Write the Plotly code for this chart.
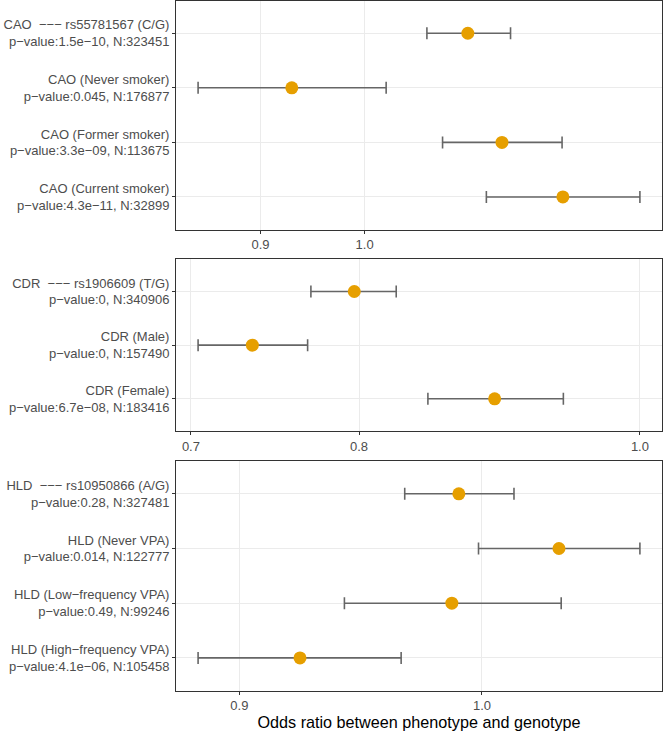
import numpy as np
import plotly.graph_objects as go

# panel 1 - CAO by smoking status
cao_labels = [
    "CAO\u00a0 −−− rs55781567 (C/G)<br>p−value:1.5e−10, N:323451",
    "CAO (Never smoker)<br>p−value:0.045, N:176877",
    "CAO (Former smoker)<br>p−value:3.3e−09, N:113675",
    "CAO (Current smoker)<br>p−value:4.3e−11, N:32899",
]
cao_or = [1.110, 0.929, 1.149, 1.222]
cao_lo = [1.065, 0.845, 1.082, 1.131]
cao_hi = [1.159, 1.022, 1.221, 1.321]
cao_ticks = [0.9, 1.0]

# panel 2 - CDR by sex
cdr_labels = [
    "CDR\u00a0 −−− rs1906609 (T/G)<br>p−value:0, N:340906",
    "CDR (Male)<br>p−value:0, N:157490",
    "CDR (Female)<br>p−value:6.7e−08, N:183416",
]
cdr_or = [0.797, 0.735, 0.891]
cdr_lo = [0.770, 0.704, 0.845]
cdr_hi = [0.824, 0.768, 0.941]
cdr_ticks = [0.7, 0.8, 1.0]

# panel 3 - HLD by VPA frequency
hld_labels = [
    "HLD\u00a0 −−− rs10950866 (A/G)<br>p−value:0.28, N:327481",
    "HLD (Never VPA)<br>p−value:0.014, N:122777",
    "HLD (Low−frequency VPA)<br>p−value:0.49, N:99246",
    "HLD (High−frequency VPA)<br>p−value:4.1e−06, N:105458",
]
hld_or = [0.990, 1.034, 0.987, 0.924]
hld_lo = [0.967, 0.9985, 0.942, 0.884]
hld_hi = [1.014, 1.071, 1.035, 0.9655]
hld_ticks = [0.9, 1.0]

panels = [
    (cao_labels, cao_or, cao_lo, cao_hi, cao_ticks),
    (cdr_labels, cdr_or, cdr_lo, cdr_hi, cdr_ticks),
    (hld_labels, hld_or, hld_lo, hld_hi, hld_ticks),
]

H = 731
# panel top/bottom in pixels
px_rows = [(0.5, 229.7), (259.3, 431.0), (461.0, 690.7)]

font = "Liberation Sans, Arial, sans-serif"
fig = go.Figure()
layout = dict()

for i, (labels, orv, lo, hi, ticks) in enumerate(panels):
    n = i + 1
    xs = "x" if n == 1 else f"x{n}"
    ys = "y" if n == 1 else f"y{n}"
    fig.add_trace(go.Scatter(
        x=orv, y=labels, xaxis=xs, yaxis=ys, mode="markers",
        marker=dict(color="#E69F00", size=13),
        error_x=dict(type="data", symmetric=False,
                     array=[h - o for h, o in zip(hi, orv)],
                     arrayminus=[o - l for o, l in zip(orv, lo)],
                     color="#666666", thickness=1.6, width=6),
        showlegend=False,
    ))
    # ggplot style 5% expansion in log space, 1.0 line included
    vals = np.log10(lo + hi + [1.0])
    span = vals.max() - vals.min()
    xr = [vals.min() - 0.05 * span, vals.max() + 0.05 * span]
    top, bot = px_rows[i]
    xa = dict(type="log", range=xr, domain=[0, 1], anchor=ys,
              tickvals=ticks, ticktext=[f"{t:.1f}" for t in ticks],
              showgrid=True, gridcolor="#EBEBEB", gridwidth=1.2,
              ticks="outside", ticklen=3, tickcolor="#333333",
              tickfont=dict(size=13, color="#4D4D4D", family=font),
              showline=True, mirror=True, linecolor="#333333", linewidth=1,
              zeroline=False)
    if n == 3:
        xa["title"] = dict(text="Odds ratio between phenotype and genotype",
                           font=dict(size=16.2, color="black", family=font),
                           standoff=3)
    ya = dict(type="category", categoryorder="array", categoryarray=labels,
              range=[len(labels) - 0.4, -0.6], anchor=xs,
              domain=[1 - bot / H, 1 - top / H],
              showgrid=True, gridcolor="#EBEBEB", gridwidth=1.2,
              ticks="outside", ticklen=3, tickcolor="#333333",
              tickfont=dict(size=13, color="#4D4D4D", family=font),
              showline=True, mirror=True, linecolor="#333333", linewidth=1,
              zeroline=False)
    layout["xaxis" if n == 1 else f"xaxis{n}"] = xa
    layout["yaxis" if n == 1 else f"yaxis{n}"] = ya
    # dashed reference line at OR = 1
    fig.add_shape(type="line", xref=xs, yref=f"{ys} domain",
                  x0=0, x1=0, y0=0, y1=1,
                  line=dict(color="#4D4D4D", width=1, dash="3px,2px"),
                  layer="below")

fig.update_layout(**layout)
fig.update_layout(
    width=663, height=731,
    margin=dict(l=176, r=1, t=0, b=0),
    plot_bgcolor="white", paper_bgcolor="white",
    font=dict(family=font),
)

fig.write_html("out.html", config={"displayModeBar": False},
               post_script="document.body.style.margin='0';document.body.style.overflow='hidden';")
